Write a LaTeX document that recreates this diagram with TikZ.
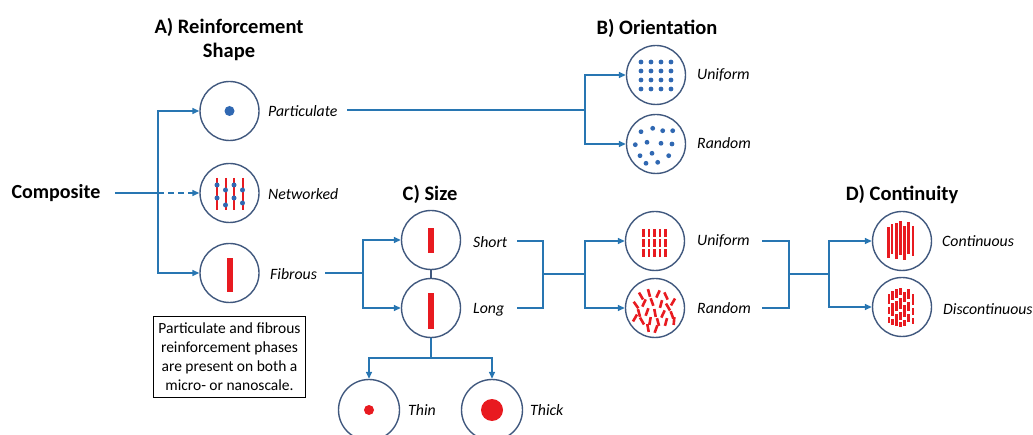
\documentclass[tikz,border=0pt]{standalone}
\usepackage{fontspec}
\setmainfont{Carlito}
\usetikzlibrary{arrows.meta}
\definecolor{wireblue}{RGB}{40,118,178}
\definecolor{ringblue}{RGB}{64,88,126}
\definecolor{dotblue}{RGB}{48,104,178}
\definecolor{fibred}{RGB}{232,26,32}
\tikzset{
  disc/.style={circle,draw=ringblue,line width=1.4pt,minimum size=59pt,inner sep=0pt},
  lab/.style={anchor=west,inner sep=0pt,font=\fontsize{15.8}{18}\selectfont\itshape},
  head/.style={align=center,font=\fontsize{20.5}{24}\selectfont\bfseries},
  wire/.style={draw=wireblue,line width=1.5pt},
  arr/.style={wire,-{Triangle[length=7pt,width=6pt]}},
}
\begin{document}
\begin{tikzpicture}[x=1pt,y=-1pt]
    \useasboundingbox (0,0) rectangle (1033,435);
    % headings
    \node[head] (tA) at (229,40) {A) Reinforcement\\Shape};
    \node[head] (tB) at (657,28) {B) Orientation};
    \node[head] (tC) at (430,194) {C) Size};
    \node[head] (tD) at (902,195) {D) Continuity};
    \node[font=\fontsize{20}{24}\selectfont\bfseries] (comp) at (56,193) {Composite};

    % A) reinforcement shape
    \node[disc] (part) at (229.5,111) {};
    \node[disc] (net) at (229.5,193) {};
    \node[disc] (fib) at (229.5,273) {};
    \node[lab] (lpart) at (268,111) {Particulate};
    \node[lab] (lnet) at (268,194) {Networked};
    \node[lab] (lfib) at (270,274) {Fibrous};
    \fill[dotblue] (part) circle (5pt);
    \begin{scope}[shift={(net.center)}]
        \foreach \x in {-12.5,-4,4.5,13}
            \draw[fibred,line width=2pt] (\x,-15) -- (\x,17);
        \foreach \x/\y in {-12.5/-8,-12.5/5,-4/-3,-4/12,4.5/-8,4.5/5,13/-3,13/10}
            \fill[dotblue] (\x,\y) circle (2.5pt);
    \end{scope}
    \fill[fibred] (226.5,258) rectangle (232.5,292);
    \coordinate (jA) at (158,193);
    \draw[wire] ([xshift=11pt]comp.east) -- (jA);
    \draw[arr,dash pattern=on 6pt off 4pt] (jA) -- (net);
    \draw[arr] (jA) |- (part);
    \draw[arr] (jA) |- (fib);
    \node[draw,line width=1.1pt,align=center,inner xsep=5pt,inner ysep=7pt,
        font=\fontsize{15.5}{19}\selectfont] (note) at (229.5,357)
        {Particulate and fibrous\\reinforcement phases\\are present on both a\\micro- or nanoscale.};

    % B) orientation
    \coordinate (eP) at (347,110);
    \coordinate (jB) at (585,110);
    \draw[wire] (eP) -- (jB);
    \node[disc] (ouni) at (656,75) {};
    \node[disc] (oran) at (656,144) {};
    \node[lab] (louni) at (697,75) {Uniform};
    \node[lab] (loran) at (697,143) {Random};
    \draw[arr] (jB) |- (ouni);
    \draw[arr] (jB) |- (oran);
    \begin{scope}[shift={(ouni.center)}]
        \foreach \x in {-15,-5,5,15}
            \foreach \y in {-13,-4,5,14}
                \fill[dotblue] (\x,\y) circle (2.4pt);
    \end{scope}
    \begin{scope}[shift={(oran.center)}]
        \foreach \x/\y in {-15/-12.3,-3.3/-15.7,6.7/-13.3,16.7/-13.3,-20.7/0.7,-9/-1.7,5/-0.7,
                16/0,-16/11.7,-4/9.3,12.7/11.7,-10/19.3,1.7/18.3}
            \fill[dotblue] (\x,\y) circle (2.4pt);
    \end{scope}

    % C) size
    \coordinate (eF) at (325,273);
    \coordinate (jC) at (363,273);
    \draw[wire] (eF) -- (jC);
    \node[disc] (short) at (431,240) {};
    \node[disc] (long) at (431,308) {};
    \draw[ringblue,line width=1.4pt] (short) -- (long);
    \draw[arr] (jC) |- (short);
    \draw[arr] (jC) |- (long);
    \node[lab] (lshort) at (473,242) {Short};
    \node[lab] (llong) at (473,310) {Long};
    \fill[fibred] (428,228) rectangle (434,253);
    \fill[fibred] (428,293) rectangle (434,329);
    \coordinate (jT) at (431,358);
    \node[disc,minimum size=61pt] (thin) at (369,410) {};
    \node[disc,minimum size=61pt] (thick) at (492,410) {};
    \draw[wire] (long) -- (jT);
    \draw[arr] (jT) -| (thin);
    \draw[arr] (jT) -| (thick);
    \fill[fibred] (thin) circle (5pt);
    \fill[fibred] (thick) circle (11pt);
    \node[lab] (lthin) at (408,410) {Thin};
    \node[lab] (lthick) at (530,410) {Thick};

    % orientation of fibres
    \coordinate (eS) at (517,241);
    \coordinate (eL) at (517,308);
    \coordinate (jE) at (543,274);
    \coordinate (jF) at (585,274);
    \draw[wire] (eS) -| (jE) |- (eL);
    \draw[wire] (jE) -- (jF);
    \node[disc] (runi) at (655,241) {};
    \node[disc] (rran) at (655,308) {};
    \draw[arr] (jF) |- (runi);
    \draw[arr] (jF) |- (rran);
    \node[lab] (lruni) at (697,241) {Uniform};
    \node[lab] (lrran) at (697,308) {Random};
    \begin{scope}[shift={(runi.center)}]
        \foreach \x in {-11.5,-6,-0.5,5,10.5}
            \foreach \y in {-7.5,2,12}
                \fill[fibred] (\x-1.4,\y-4) rectangle (\x+1.4,\y+4);
    \end{scope}
    \begin{scope}[shift={(rran.center)}]
        \foreach \x/\y/\a in {-14/-12/60,-6/-15/75,3/-14/115,11/-12/65,18/-6/120,-19/-3/55,
                -11/-5/115,-3/-6/70,6/-4/105,13/-1/60,-16/5/75,-8/4/110,0/5/80,8/6/115,
                17/7/70,-13/13/60,-5/13/100,3/14/75,11/14/105,-7/20/80,1/21/110,19/13/95,-20/10/120}
            \draw[fibred,line width=2.6pt] ([shift={(\a:4)}]\x,\y) -- ([shift={(\a+180:4)}]\x,\y);
    \end{scope}

    % D) continuity
    \coordinate (eU) at (762,241);
    \coordinate (eR) at (762,308);
    \coordinate (jG) at (789,274);
    \coordinate (jH) at (829,274);
    \draw[wire] (eU) -| (jG) |- (eR);
    \draw[wire] (jG) -- (jH);
    \node[disc] (cont) at (902,241) {};
    \node[disc] (dcont) at (902,307) {};
    \draw[arr] (jH) |- (cont);
    \draw[arr] (jH) |- (dcont);
    \node[lab] (lcont) at (942,241) {Continuous};
    \node[lab] (ldcont) at (943,309) {Discontinuous};
    \begin{scope}[shift={(cont.center)}]
        \foreach \x/\a/\b in {-13.5/-14/17,-10/-17/13,-5.5/-18/18,-1.5/-20/14,2.5/-15/19,
                6.5/-19/13,11/-15/15}
            \fill[fibred] (\x-1.3,\a) rectangle (\x+1.3,\b);
    \end{scope}
    \begin{scope}[shift={(dcont.center)}]
        \foreach \x/\a/\b in {-13/-13/-3,-13/0/7,-13/10/16,-9.5/-16/-7,-9.5/-4/9,-9.5/12/18,
                -5.5/-18/-9,-5.5/-6/4,-5.5/7/19,-1.5/-19/-12,-1.5/-9/2,-1.5/5/13,-1.5/15/20,
                2.5/-15/-5,2.5/-2/10,2.5/13/19,6.5/-18/-8,6.5/-5/4,6.5/7/15,
                11/-13/-2,11/1/8,11/11/17}
            \fill[fibred] (\x-1.3,\a) rectangle (\x+1.3,\b);
    \end{scope}
\end{tikzpicture}
\end{document}
